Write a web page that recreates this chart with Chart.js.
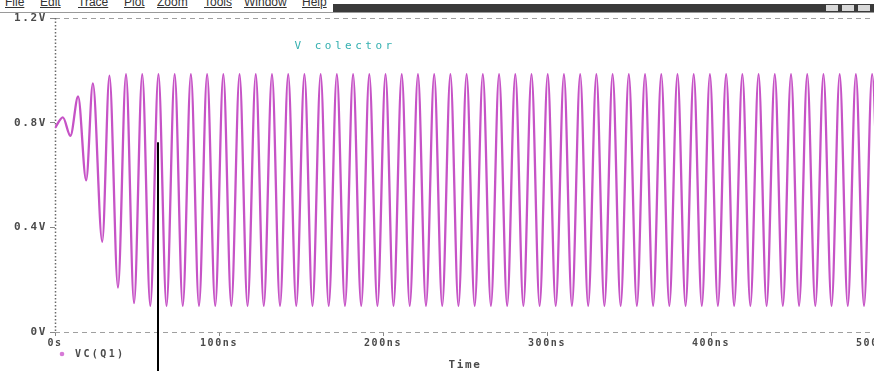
<!DOCTYPE html>
<html><head><meta charset="utf-8">
<script src="https://cdn.jsdelivr.net/npm/chart.js@4/dist/chart.umd.min.js"></script>
<style>
html,body{margin:0;padding:0;background:#fff;overflow:hidden;width:874px;height:371px;}
#wrap{position:relative;width:874px;height:371px;overflow:hidden;background:#fff;}
#c{position:absolute;left:0;top:0;}
#menu{position:absolute;left:0;top:0;width:874px;height:13px;overflow:hidden;background:#fff;z-index:2;}
#menu .band{position:absolute;left:333px;top:4px;width:541px;height:8px;background:#3a3a3a;}
#menu .line{position:absolute;left:0;top:12px;width:874px;height:1px;background:#9a9a9a;}
#menu span{position:absolute;top:-5px;font:12px 'Liberation Sans',Arial,sans-serif;color:#333;text-decoration:underline;white-space:nowrap;}
#menu .btn{position:absolute;top:5px;height:6px;background:#d8d8d8;}
</style></head>
<body>
<div id="wrap">
  <div id="menu">
    <div class="band"></div>
    <span style="left:5px">File</span>
    <span style="left:40px">Edit</span>
    <span style="left:78px">Trace</span>
    <span style="left:124px">Plot</span>
    <span style="left:157px">Zoom</span>
    <span style="left:204px">Tools</span>
    <span style="left:244px">Window</span>
    <span style="left:302px">Help</span>
    <div class="btn" style="left:826px;width:12px"></div>
    <div class="btn" style="left:842px;width:12px"></div>
    <div class="btn" style="left:858px;width:12px"></div>
    <div class="line"></div>
  </div>
  <canvas id="c" width="905" height="371"></canvas>
</div>
<script>
// ---- data (time in ns, voltage in V) ----
const traceLabel = 'VC(Q1)';
const startupTimesNs = [0, 4.8, 9.4, 14.1, 19.0, 23.1, 28.8, 33.2, 38.4, 43.3, 48.2];
const startupVolts   = [0.78, 0.82, 0.75, 0.90, 0.58, 0.95, 0.345, 0.98, 0.17, 0.985, 0.11];
const peakTimesNs = [53.19, 63.08, 72.97, 82.86, 92.75, 102.64, 112.53, 122.42, 132.31, 142.2,
  152.09, 161.98, 171.87, 181.76, 191.65, 201.54, 211.43, 221.32, 231.21, 241.1,
  250.99, 260.88, 270.77, 280.66, 290.55, 300.44, 310.33, 320.22, 330.11, 340.0,
  349.89, 359.78, 369.67, 379.56, 389.45, 399.34, 409.23, 419.12, 429.01, 438.9,
  448.79, 458.68, 468.57, 478.46, 488.35, 498.24];
const peakVolts = [0.985, 0.985, 0.985, 0.985, 0.985, 0.985, 0.985, 0.985, 0.985, 0.985,
  0.985, 0.985, 0.985, 0.985, 0.985, 0.985, 0.985, 0.985, 0.985, 0.985,
  0.985, 0.985, 0.985, 0.985, 0.985, 0.985, 0.985, 0.985, 0.985, 0.985,
  0.985, 0.985, 0.985, 0.985, 0.985, 0.985, 0.985, 0.985, 0.985, 0.985,
  0.985, 0.985, 0.985, 0.985, 0.985, 0.985];
const troughTimesNs = [58.1, 68.0, 77.9, 87.8, 97.7, 107.5, 117.4, 127.3, 137.2, 147.1,
  157.0, 166.9, 176.8, 186.7, 196.6, 206.4, 216.3, 226.2, 236.1, 246.0,
  255.9, 265.8, 275.7, 285.6, 295.5, 305.3, 315.2, 325.1, 335.0, 344.9,
  354.8, 364.7, 374.6, 384.5, 394.4, 404.2, 414.1, 424.0, 433.9, 443.8,
  453.7, 463.6, 473.5, 483.4, 493.3, 503.1];
const troughVolts = [0.10, 0.10, 0.10, 0.10, 0.10, 0.10, 0.10, 0.10, 0.10, 0.10,
  0.10, 0.10, 0.10, 0.10, 0.10, 0.10, 0.10, 0.10, 0.10, 0.10,
  0.10, 0.10, 0.10, 0.10, 0.10, 0.10, 0.10, 0.10, 0.10, 0.10,
  0.10, 0.10, 0.10, 0.10, 0.10, 0.10, 0.10, 0.10, 0.10, 0.10,
  0.10, 0.10, 0.10, 0.10, 0.10, 0.10];
const xTickValuesNs = [0, 100, 200, 300, 400, 500];
const xTickLabels = ['0s', '100ns', '200ns', '300ns', '400ns', '500ns'];
const yTickValues = [0, 0.4, 0.8, 1.2];
const yTickLabels = ['0V', '0.4V', '0.8V', '1.2V'];
const xTitle = 'Time';
const annotationText = 'V colector';
const annotationTimeNs = 146;
const annotationVolt = 1.093;
const cursorTimeNs = 62.9;
const cursorTopVolt = 0.725;

// ---- build the table ----
const points = [];
startupTimesNs.forEach((t, i) => points.push({x: t, y: startupVolts[i]}));
peakTimesNs.forEach((t, i) => points.push({x: t, y: peakVolts[i]}));
troughTimesNs.forEach((t, i) => points.push({x: t, y: troughVolts[i]}));
points.sort((a, b) => a.x - b.x);

const TRACE = '#c653c6';
const LABEL = '#4a4a4a';
const MONO = '"DejaVu Sans Mono", "Liberation Mono", monospace';

const decor = {
  id: 'decor',
  beforeDraw(chart) { chart.ctx.letterSpacing = '1.6px'; },
  beforeDatasetsDraw(chart) {
    const {ctx, chartArea: a, scales: {x, y}} = chart;
    ctx.save();
    ctx.letterSpacing = '0px';
    ctx.strokeStyle = '#a0a0a0'; ctx.lineWidth = 1; ctx.setLineDash([5, 4]);
    [y.getPixelForValue(1.2), y.getPixelForValue(0)].forEach(py => {
      const yy = Math.round(py) + 0.5;
      ctx.beginPath(); ctx.moveTo(a.left, yy); ctx.lineTo(a.right, yy); ctx.stroke();
    });
    ctx.setLineDash([1.5, 2]); ctx.strokeStyle = '#6a6a6a'; ctx.lineWidth = 1.5;
    ctx.beginPath(); ctx.moveTo(a.left + 0.5, a.top); ctx.lineTo(a.left + 0.5, a.bottom); ctx.stroke();
    ctx.restore();
  },
  afterDatasetsDraw(chart) {
    const {ctx, chartArea: a, scales: {x, y}} = chart;
    ctx.save();
    // cursor
    const px = x.getPixelForValue(cursorTimeNs);
    const py = y.getPixelForValue(cursorTopVolt);
    ctx.fillStyle = '#000';
    ctx.fillRect(Math.round(px) - 1, py, 2, chart.height - py);
    // annotation
    ctx.font = '11px ' + MONO;
    ctx.letterSpacing = '3.5px';
    ctx.fillStyle = '#34b0b0';
    ctx.textAlign = 'left'; ctx.textBaseline = 'middle';
    ctx.fillText(annotationText, x.getPixelForValue(annotationTimeNs), y.getPixelForValue(annotationVolt));
    // legend
    ctx.fillStyle = '#d77ad7';
    ctx.beginPath(); ctx.arc(a.left + 7, 354, 2.3, 0, Math.PI * 2); ctx.fill();
    ctx.font = 'bold 10px ' + MONO;
    ctx.letterSpacing = '2.4px';
    ctx.fillStyle = LABEL;
    ctx.fillText(chart.data.datasets[0].label, a.left + 20, 354);
    ctx.restore();
  }
};

new Chart(document.getElementById('c'), {
  type: 'line',
  data: {
    datasets: [{
      label: traceLabel,
      data: points,
      borderColor: TRACE,
      borderWidth: 2.3,
      pointRadius: 0,
      cubicInterpolationMode: 'monotone',
      fill: false
    }]
  },
  options: {
    responsive: false,
    animation: false,
    devicePixelRatio: 1,
    layout: {padding: {top: 18, right: 30, left: 0, bottom: 0}},
    plugins: {legend: {display: false}, tooltip: {enabled: false}},
    scales: {
      x: {
        type: 'linear', min: 0, max: 500,
        afterFit: s => { s.height = 39; },
        afterBuildTicks: s => { s.ticks = xTickValuesNs.map(v => ({value: v})); },
        ticks: {
          callback: v => xTickLabels[xTickValuesNs.indexOf(v)],
          color: LABEL, font: {family: MONO, size: 10, weight: 'bold'},
          padding: 1, maxRotation: 0, autoSkip: false
        },
        grid: {drawOnChartArea: false, drawTicks: true, tickLength: 4, color: '#888', tickColor: '#888'},
        border: {display: false},
        title: {display: true, text: xTitle, color: LABEL,
          font: {family: MONO, size: 11, weight: 'bold', lineHeight: 1.0},
          padding: {top: 0, bottom: 0}}
      },
      y: {
        type: 'linear', min: 0, max: 1.2,
        afterFit: s => { s.width = 55; },
        afterBuildTicks: s => { s.ticks = yTickValues.map(v => ({value: v})); },
        ticks: {
          callback: v => yTickLabels[yTickValues.findIndex(t => Math.abs(t - v) < 1e-9)],
          color: LABEL, font: {family: MONO, size: 11, weight: 'bold'},
          padding: 3
        },
        grid: {drawOnChartArea: false, drawTicks: true, tickLength: 5, color: '#888', tickColor: '#888'},
        border: {display: false}
      }
    }
  },
  plugins: [decor]
});
</script>
</body></html>
